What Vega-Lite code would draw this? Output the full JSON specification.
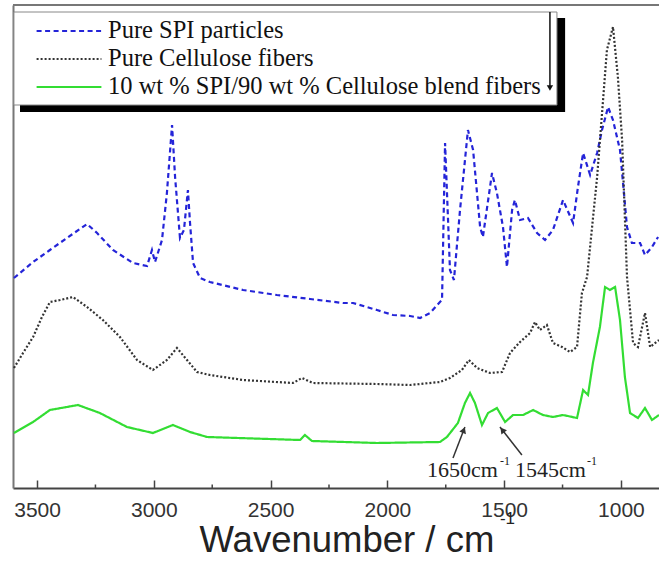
{
  "$schema": "https://vega.github.io/schema/vega-lite/v6.json",
  "width": 646,
  "height": 483,
  "autosize": {"type": "none"},
  "padding": {"left": 13, "top": 5, "right": 0, "bottom": 73},
  "background": "white",
  "config": {"view": {"stroke": null}, "font": "Liberation Sans"},
  "datasets": {
    "spectra": [
      {"wn":3599,"a":210,"s":"Pure SPI particles"},{"wn":3517,"a":226,"s":"Pure SPI particles"},{"wn":3445,"a":238,"s":"Pure SPI particles"},{"wn":3372,"a":250,"s":"Pure SPI particles"},{"wn":3286,"a":264,"s":"Pure SPI particles"},{"wn":3243,"a":255,"s":"Pure SPI particles"},{"wn":3175,"a":238,"s":"Pure SPI particles"},{"wn":3089,"a":225,"s":"Pure SPI particles"},{"wn":3029,"a":222,"s":"Pure SPI particles"},{"wn":3008,"a":238,"s":"Pure SPI particles"},{"wn":2995,"a":226,"s":"Pure SPI particles"},{"wn":2965,"a":248,"s":"Pure SPI particles"},{"wn":2944,"a":295,"s":"Pure SPI particles"},{"wn":2922,"a":363,"s":"Pure SPI particles"},{"wn":2909,"a":311,"s":"Pure SPI particles"},{"wn":2888,"a":250,"s":"Pure SPI particles"},{"wn":2871,"a":258,"s":"Pure SPI particles"},{"wn":2854,"a":298,"s":"Pure SPI particles"},{"wn":2845,"a":265,"s":"Pure SPI particles"},{"wn":2832,"a":225,"s":"Pure SPI particles"},{"wn":2802,"a":210,"s":"Pure SPI particles"},{"wn":2760,"a":206,"s":"Pure SPI particles"},{"wn":2618,"a":198,"s":"Pure SPI particles"},{"wn":2473,"a":193,"s":"Pure SPI particles"},{"wn":2331,"a":189,"s":"Pure SPI particles"},{"wn":2190,"a":185,"s":"Pure SPI particles"},{"wn":2147,"a":185,"s":"Pure SPI particles"},{"wn":2045,"a":178,"s":"Pure SPI particles"},{"wn":1976,"a":173,"s":"Pure SPI particles"},{"wn":1903,"a":172,"s":"Pure SPI particles"},{"wn":1860,"a":170,"s":"Pure SPI particles"},{"wn":1817,"a":175,"s":"Pure SPI particles"},{"wn":1775,"a":186,"s":"Pure SPI particles"},{"wn":1766,"a":188,"s":"Pure SPI particles"},{"wn":1753,"a":345,"s":"Pure SPI particles"},{"wn":1732,"a":218,"s":"Pure SPI particles"},{"wn":1715,"a":208,"s":"Pure SPI particles"},{"wn":1689,"a":278,"s":"Pure SPI particles"},{"wn":1655,"a":358,"s":"Pure SPI particles"},{"wn":1633,"a":338,"s":"Pure SPI particles"},{"wn":1603,"a":261,"s":"Pure SPI particles"},{"wn":1591,"a":251,"s":"Pure SPI particles"},{"wn":1552,"a":315,"s":"Pure SPI particles"},{"wn":1531,"a":295,"s":"Pure SPI particles"},{"wn":1505,"a":261,"s":"Pure SPI particles"},{"wn":1488,"a":221,"s":"Pure SPI particles"},{"wn":1466,"a":278,"s":"Pure SPI particles"},{"wn":1454,"a":288,"s":"Pure SPI particles"},{"wn":1432,"a":268,"s":"Pure SPI particles"},{"wn":1398,"a":270,"s":"Pure SPI particles"},{"wn":1359,"a":255,"s":"Pure SPI particles"},{"wn":1325,"a":248,"s":"Pure SPI particles"},{"wn":1291,"a":258,"s":"Pure SPI particles"},{"wn":1248,"a":288,"s":"Pure SPI particles"},{"wn":1205,"a":265,"s":"Pure SPI particles"},{"wn":1184,"a":301,"s":"Pure SPI particles"},{"wn":1162,"a":335,"s":"Pure SPI particles"},{"wn":1132,"a":313,"s":"Pure SPI particles"},{"wn":1102,"a":335,"s":"Pure SPI particles"},{"wn":1081,"a":358,"s":"Pure SPI particles"},{"wn":1055,"a":381,"s":"Pure SPI particles"},{"wn":1034,"a":368,"s":"Pure SPI particles"},{"wn":1004,"a":338,"s":"Pure SPI particles"},{"wn":991,"a":305,"s":"Pure SPI particles"},{"wn":974,"a":261,"s":"Pure SPI particles"},{"wn":953,"a":245,"s":"Pure SPI particles"},{"wn":918,"a":245,"s":"Pure SPI particles"},{"wn":897,"a":233,"s":"Pure SPI particles"},{"wn":867,"a":241,"s":"Pure SPI particles"},{"wn":841,"a":251,"s":"Pure SPI particles"},
      {"wn":3599,"a":120,"s":"Pure Cellulose fibers"},{"wn":3560,"a":135,"s":"Pure Cellulose fibers"},{"wn":3517,"a":151,"s":"Pure Cellulose fibers"},{"wn":3479,"a":171,"s":"Pure Cellulose fibers"},{"wn":3445,"a":186,"s":"Pure Cellulose fibers"},{"wn":3402,"a":188,"s":"Pure Cellulose fibers"},{"wn":3346,"a":191,"s":"Pure Cellulose fibers"},{"wn":3286,"a":181,"s":"Pure Cellulose fibers"},{"wn":3218,"a":168,"s":"Pure Cellulose fibers"},{"wn":3145,"a":151,"s":"Pure Cellulose fibers"},{"wn":3072,"a":128,"s":"Pure Cellulose fibers"},{"wn":3004,"a":118,"s":"Pure Cellulose fibers"},{"wn":2944,"a":128,"s":"Pure Cellulose fibers"},{"wn":2901,"a":140,"s":"Pure Cellulose fibers"},{"wn":2858,"a":128,"s":"Pure Cellulose fibers"},{"wn":2815,"a":116,"s":"Pure Cellulose fibers"},{"wn":2760,"a":113,"s":"Pure Cellulose fibers"},{"wn":2618,"a":108,"s":"Pure Cellulose fibers"},{"wn":2404,"a":105,"s":"Pure Cellulose fibers"},{"wn":2366,"a":110,"s":"Pure Cellulose fibers"},{"wn":2319,"a":105,"s":"Pure Cellulose fibers"},{"wn":2045,"a":104,"s":"Pure Cellulose fibers"},{"wn":1903,"a":103,"s":"Pure Cellulose fibers"},{"wn":1775,"a":106,"s":"Pure Cellulose fibers"},{"wn":1732,"a":110,"s":"Pure Cellulose fibers"},{"wn":1681,"a":118,"s":"Pure Cellulose fibers"},{"wn":1651,"a":128,"s":"Pure Cellulose fibers"},{"wn":1616,"a":120,"s":"Pure Cellulose fibers"},{"wn":1561,"a":115,"s":"Pure Cellulose fibers"},{"wn":1509,"a":116,"s":"Pure Cellulose fibers"},{"wn":1475,"a":135,"s":"Pure Cellulose fibers"},{"wn":1432,"a":146,"s":"Pure Cellulose fibers"},{"wn":1389,"a":155,"s":"Pure Cellulose fibers"},{"wn":1368,"a":166,"s":"Pure Cellulose fibers"},{"wn":1347,"a":158,"s":"Pure Cellulose fibers"},{"wn":1317,"a":163,"s":"Pure Cellulose fibers"},{"wn":1291,"a":145,"s":"Pure Cellulose fibers"},{"wn":1252,"a":141,"s":"Pure Cellulose fibers"},{"wn":1218,"a":136,"s":"Pure Cellulose fibers"},{"wn":1188,"a":141,"s":"Pure Cellulose fibers"},{"wn":1167,"a":195,"s":"Pure Cellulose fibers"},{"wn":1145,"a":211,"s":"Pure Cellulose fibers"},{"wn":1102,"a":311,"s":"Pure Cellulose fibers"},{"wn":1060,"a":438,"s":"Pure Cellulose fibers"},{"wn":1034,"a":461,"s":"Pure Cellulose fibers"},{"wn":1013,"a":411,"s":"Pure Cellulose fibers"},{"wn":995,"a":348,"s":"Pure Cellulose fibers"},{"wn":974,"a":211,"s":"Pure Cellulose fibers"},{"wn":948,"a":145,"s":"Pure Cellulose fibers"},{"wn":927,"a":141,"s":"Pure Cellulose fibers"},{"wn":897,"a":175,"s":"Pure Cellulose fibers"},{"wn":875,"a":141,"s":"Pure Cellulose fibers"},{"wn":837,"a":148,"s":"Pure Cellulose fibers"},
      {"wn":3599,"a":55,"s":"10 wt % SPI/90 wt % Cellulose blend fibers"},{"wn":3517,"a":66,"s":"10 wt % SPI/90 wt % Cellulose blend fibers"},{"wn":3445,"a":78,"s":"10 wt % SPI/90 wt % Cellulose blend fibers"},{"wn":3325,"a":83,"s":"10 wt % SPI/90 wt % Cellulose blend fibers"},{"wn":3231,"a":75,"s":"10 wt % SPI/90 wt % Cellulose blend fibers"},{"wn":3115,"a":61,"s":"10 wt % SPI/90 wt % Cellulose blend fibers"},{"wn":3004,"a":55,"s":"10 wt % SPI/90 wt % Cellulose blend fibers"},{"wn":2918,"a":63,"s":"10 wt % SPI/90 wt % Cellulose blend fibers"},{"wn":2845,"a":56,"s":"10 wt % SPI/90 wt % Cellulose blend fibers"},{"wn":2772,"a":51,"s":"10 wt % SPI/90 wt % Cellulose blend fibers"},{"wn":2374,"a":48,"s":"10 wt % SPI/90 wt % Cellulose blend fibers"},{"wn":2353,"a":53,"s":"10 wt % SPI/90 wt % Cellulose blend fibers"},{"wn":2323,"a":47,"s":"10 wt % SPI/90 wt % Cellulose blend fibers"},{"wn":2045,"a":45,"s":"10 wt % SPI/90 wt % Cellulose blend fibers"},{"wn":1775,"a":46,"s":"10 wt % SPI/90 wt % Cellulose blend fibers"},{"wn":1745,"a":51,"s":"10 wt % SPI/90 wt % Cellulose blend fibers"},{"wn":1698,"a":65,"s":"10 wt % SPI/90 wt % Cellulose blend fibers"},{"wn":1668,"a":85,"s":"10 wt % SPI/90 wt % Cellulose blend fibers"},{"wn":1646,"a":95,"s":"10 wt % SPI/90 wt % Cellulose blend fibers"},{"wn":1625,"a":85,"s":"10 wt % SPI/90 wt % Cellulose blend fibers"},{"wn":1595,"a":63,"s":"10 wt % SPI/90 wt % Cellulose blend fibers"},{"wn":1569,"a":75,"s":"10 wt % SPI/90 wt % Cellulose blend fibers"},{"wn":1531,"a":80,"s":"10 wt % SPI/90 wt % Cellulose blend fibers"},{"wn":1496,"a":66,"s":"10 wt % SPI/90 wt % Cellulose blend fibers"},{"wn":1462,"a":73,"s":"10 wt % SPI/90 wt % Cellulose blend fibers"},{"wn":1419,"a":73,"s":"10 wt % SPI/90 wt % Cellulose blend fibers"},{"wn":1376,"a":78,"s":"10 wt % SPI/90 wt % Cellulose blend fibers"},{"wn":1334,"a":73,"s":"10 wt % SPI/90 wt % Cellulose blend fibers"},{"wn":1291,"a":71,"s":"10 wt % SPI/90 wt % Cellulose blend fibers"},{"wn":1248,"a":73,"s":"10 wt % SPI/90 wt % Cellulose blend fibers"},{"wn":1188,"a":70,"s":"10 wt % SPI/90 wt % Cellulose blend fibers"},{"wn":1162,"a":98,"s":"10 wt % SPI/90 wt % Cellulose blend fibers"},{"wn":1141,"a":93,"s":"10 wt % SPI/90 wt % Cellulose blend fibers"},{"wn":1120,"a":125,"s":"10 wt % SPI/90 wt % Cellulose blend fibers"},{"wn":1090,"a":161,"s":"10 wt % SPI/90 wt % Cellulose blend fibers"},{"wn":1068,"a":201,"s":"10 wt % SPI/90 wt % Cellulose blend fibers"},{"wn":1047,"a":198,"s":"10 wt % SPI/90 wt % Cellulose blend fibers"},{"wn":1025,"a":201,"s":"10 wt % SPI/90 wt % Cellulose blend fibers"},{"wn":1004,"a":168,"s":"10 wt % SPI/90 wt % Cellulose blend fibers"},{"wn":983,"a":111,"s":"10 wt % SPI/90 wt % Cellulose blend fibers"},{"wn":961,"a":75,"s":"10 wt % SPI/90 wt % Cellulose blend fibers"},{"wn":927,"a":70,"s":"10 wt % SPI/90 wt % Cellulose blend fibers"},{"wn":897,"a":80,"s":"10 wt % SPI/90 wt % Cellulose blend fibers"},{"wn":867,"a":68,"s":"10 wt % SPI/90 wt % Cellulose blend fibers"},{"wn":837,"a":73,"s":"10 wt % SPI/90 wt % Cellulose blend fibers"}
    ]
  },
  "layer": [
    {
      "data": {"values": [{}]},
      "mark": {"type": "rect", "fill": "black"},
      "encoding": {
        "x": {"datum": 3573, "type": "quantitative", "title": "Wavenumber / cm", "scale": {"domain": [837, 3603], "reverse": true, "nice": false, "zero": false},
          "axis": {"values": [3500, 3000, 2500, 2000, 1500, 1000], "format": "d", "grid": false,
            "domainColor": "#444", "domainWidth": 2, "tickColor": "#444", "tickWidth": 1.5, "tickSize": -8,
            "labelFont": "Liberation Sans", "labelFontSize": 21, "labelColor": "#333", "labelPadding": 19, "labelBaseline": "top",
            "titleFont": "Liberation Sans", "titleFontSize": 36.5, "titleFontWeight": "normal", "titleColor": "#222",
            "titleAlign": "left", "titleAnchor": "start", "titleX": 186, "titleY": 63, "titleBaseline": "alphabetic"}},
        "x2": {"datum": 1239},
        "y": {"datum": 470, "type": "quantitative", "title": null, "scale": {"domain": [0, 483], "nice": false, "zero": false},
          "axis": {"labels": false, "ticks": false, "grid": false, "domainColor": "#777", "domainWidth": 2}},
        "y2": {"datum": 376}
      }
    },
    {
      "data": {"values": [{}]},
      "mark": {"type": "rect", "fill": "white", "stroke": "#888", "strokeWidth": 1},
      "encoding": {
        "x": {"datum": 3599, "type": "quantitative", "title": "Wavenumber / cm"},
        "x2": {"datum": 1274},
        "y": {"datum": 476, "type": "quantitative", "title": null},
        "y2": {"datum": 383}
      }
    },
    {
      "data": {"values": [{}]},
      "mark": {"type": "rule", "stroke": "#777", "strokeWidth": 2},
      "encoding": {"y": {"datum": 483, "type": "quantitative", "title": null}}
    },
    {
      "data": {"values": [{"wn": 3250}, {"wn": 2750}, {"wn": 2250}, {"wn": 1750}, {"wn": 1250}]},
      "mark": {"type": "rule", "stroke": "#444", "strokeWidth": 1.5},
      "encoding": {
        "x": {"field": "wn", "type": "quantitative", "title": "Wavenumber / cm"},
        "y": {"datum": 0, "type": "quantitative", "title": null},
        "y2": {"datum": 3.5}
      }
    },
    {
      "data": {"name": "spectra"},
      "mark": {"type": "line", "strokeWidth": 2.2},
      "encoding": {
        "x": {"field": "wn", "type": "quantitative", "title": "Wavenumber / cm"},
        "y": {"field": "a", "type": "quantitative", "title": null},
        "color": {"field": "s", "type": "nominal",
          "scale": {"domain": ["Pure SPI particles", "Pure Cellulose fibers", "10 wt % SPI/90 wt % Cellulose blend fibers"], "range": ["#2424d8", "#333333", "#33dd33"]},
          "legend": {"orient": "none", "legendX": 22, "legendY": 12, "title": null, "padding": 0, "rowPadding": 0,
            "clipHeight": 28, "symbolSize": 4200, "symbolStrokeWidth": 2.2, "symbolType": "stroke", "labelOffset": 5,
            "labelFont": "Liberation Serif", "labelFontSize": 24.5, "labelColor": "#111", "labelLimit": 700}},
        "strokeDash": {"field": "s", "type": "nominal",
          "scale": {"domain": ["Pure SPI particles", "Pure Cellulose fibers", "10 wt % SPI/90 wt % Cellulose blend fibers"], "range": [[5, 3.5], [2, 2], [1, 0]]}}
      }
    },
    {
      "data": {"values": [{}]},
      "mark": {"type": "rule", "stroke": "#111", "strokeWidth": 1.5},
      "encoding": {
        "x": {"datum": 1304, "type": "quantitative", "title": "Wavenumber / cm"},
        "y": {"datum": 476, "type": "quantitative", "title": null},
        "y2": {"datum": 400}
      }
    },
    {
      "data": {"values": [{}]},
      "mark": {"type": "point", "shape": "triangle-down", "filled": true, "color": "#111", "size": 40, "opacity": 1},
      "encoding": {
        "x": {"datum": 1304, "type": "quantitative", "title": "Wavenumber / cm"},
        "y": {"datum": 400, "type": "quantitative", "title": null}
      }
    },
    {
      "data": {"values": [{"wn": 1719, "a": 30, "wn2": 1668, "a2": 61}, {"wn": 1424, "a": 33, "wn2": 1518, "a2": 61}]},
      "mark": {"type": "rule", "stroke": "#333", "strokeWidth": 1.5},
      "encoding": {
        "x": {"field": "wn", "type": "quantitative", "title": "Wavenumber / cm"},
        "y": {"field": "a", "type": "quantitative", "title": null},
        "x2": {"field": "wn2"},
        "y2": {"field": "a2"}
      }
    },
    {
      "data": {"values": [{"wn": 1673, "a": 58}]},
      "mark": {"type": "point", "shape": "triangle-up", "filled": true, "color": "#333", "size": 50, "angle": 21, "opacity": 1},
      "encoding": {
        "x": {"field": "wn", "type": "quantitative", "title": "Wavenumber / cm"},
        "y": {"field": "a", "type": "quantitative", "title": null}
      }
    },
    {
      "data": {"values": [{"wn": 1508, "a": 58}]},
      "mark": {"type": "point", "shape": "triangle-up", "filled": true, "color": "#333", "size": 50, "angle": 322, "opacity": 1},
      "encoding": {
        "x": {"field": "wn", "type": "quantitative", "title": "Wavenumber / cm"},
        "y": {"field": "a", "type": "quantitative", "title": null}
      }
    },
    {
      "data": {"values": [{"wn": 1830, "label": "1650cm"}, {"wn": 1454, "label": "1545cm"}]},
      "mark": {"type": "text", "align": "left", "baseline": "alphabetic", "font": "Liberation Serif", "fontSize": 22, "color": "#222"},
      "encoding": {
        "x": {"field": "wn", "type": "quantitative", "title": "Wavenumber / cm"},
        "y": {"datum": 11, "type": "quantitative", "title": null},
        "text": {"field": "label"}
      }
    },
    {
      "data": {"values": [{"wn": 1518, "label": "-1"}, {"wn": 1145, "label": "-1"}]},
      "mark": {"type": "text", "align": "left", "baseline": "alphabetic", "font": "Liberation Serif", "fontSize": 12, "color": "#222"},
      "encoding": {
        "x": {"field": "wn", "type": "quantitative", "title": "Wavenumber / cm"},
        "y": {"datum": 23, "type": "quantitative", "title": null},
        "text": {"field": "label"}
      }
    },
    {
      "data": {"values": [{"wn": 1518, "label": "-1"}]},
      "mark": {"type": "text", "align": "left", "baseline": "alphabetic", "font": "Liberation Sans", "fontSize": 17, "color": "#222"},
      "encoding": {
        "x": {"field": "wn", "type": "quantitative", "title": "Wavenumber / cm"},
        "y": {"datum": -36, "type": "quantitative", "title": null},
        "text": {"field": "label"}
      }
    }
  ]
}
